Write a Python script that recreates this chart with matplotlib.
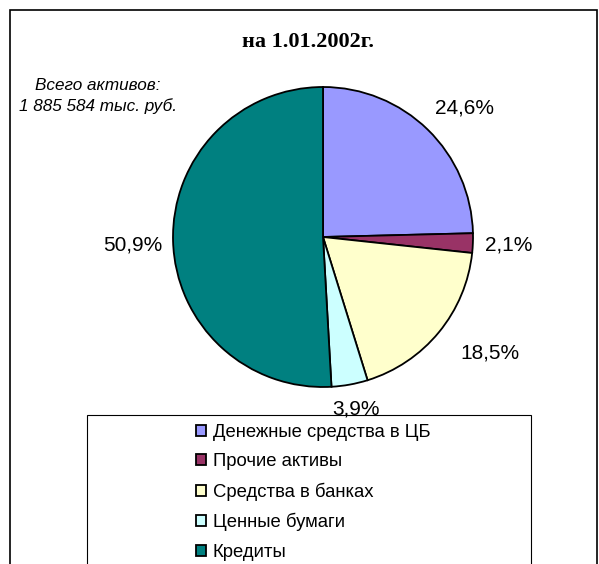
import matplotlib.pyplot as plt
from matplotlib.patches import Rectangle

# data
categories = ['Денежные средства в ЦБ', 'Прочие активы', 'Средства в банках',
              'Ценные бумаги', 'Кредиты']
shares = [24.6, 2.1, 18.5, 3.9, 50.9]
colors = ['#9999FF', '#993366', '#FFFFCC', '#CCFFFF', '#008080']
title = 'на 1.01.2002г.'
note = 'Всего активов:\n1 885 584 тыс. руб.'

W, H = 599, 564
cx, cy, r = 323, H - 237, 150
# small nudges for the percent labels (pixels)
nudge = [(-5, 9), (-6, -1), (8, -9), (3, -1), (7, -3)]

fig = plt.figure(figsize=(W / 100, H / 100), dpi=100)
ax = fig.add_axes([0, 0, 1, 1])
ax.axis('off')

# outer frame and legend box (both run off the bottom)
ax.add_patch(Rectangle((10, -10), 587, H, fill=False, lw=1.2, ec='black'))
ax.add_patch(Rectangle((87, -10), 444, H - 415 + 10, fill=False, lw=0.8, ec='black'))

labels = [('%.1f%%' % v).replace('.', ',') for v in shares]
wedges, texts = ax.pie(shares, colors=colors, startangle=90, counterclock=False,
                       center=(cx, cy), radius=r, labels=labels,
                       labeldistance=1.12,
                       wedgeprops=dict(edgecolor='black', linewidth=1.3),
                       textprops=dict(fontsize=15, family='Liberation Sans'))
for t, (dx, dy) in zip(texts, nudge):
    x, y = t.get_position()
    if abs(x - cx) < 40:
        t.set_ha('center')
        y -= 6
    elif x < cx:
        t.set_ha('right')
    else:
        t.set_ha('left')
    t.set_position((x + dx, y + dy))

ax.set_xlim(0, W)
ax.set_ylim(0, H)
ax.set_aspect('equal')

ax.text(308, H - 42, title, ha='center', va='center', fontsize=16,
        fontweight='bold', family='Liberation Serif')
ax.text(98, H - 96, note, ha='center', va='center', fontsize=12.3,
        style='italic', family='Liberation Sans', linespacing=1.45)

leg = ax.legend(wedges, categories, loc='upper left',
                bbox_to_anchor=(187 / W, (H - 415) / H),
                bbox_transform=fig.transFigure, frameon=False,
                prop=dict(family='Liberation Sans', size=13.3),
                handlelength=0.55, handleheight=0.55, handletextpad=0.35,
                labelspacing=0.66, borderpad=0)
for h in leg.legend_handles:
    h.set_linewidth(1.3)

fig.savefig('out.png', dpi=100)
